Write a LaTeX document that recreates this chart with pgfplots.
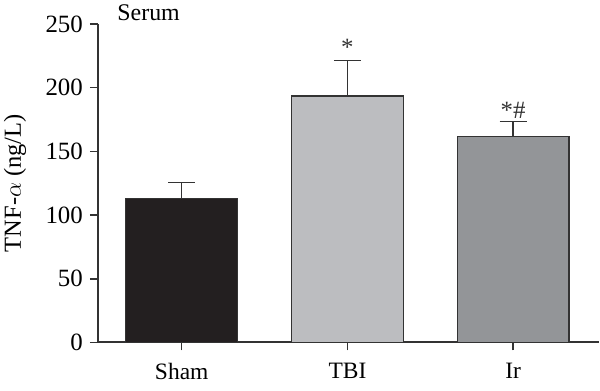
\documentclass[border=0pt]{standalone}
\usepackage{pgfplots}
\pgfplotsset{compat=1.18}
\usepackage{fontspec}
\setmainfont{Liberation Serif}
\definecolor{shamc}{HTML}{231F20}
\definecolor{tbic}{HTML}{BCBDC0}
\definecolor{irc}{HTML}{939598}
\definecolor{edgec}{HTML}{333333}
\begin{document}
\begin{tikzpicture}
\begin{axis}[
  scale only axis,
  width=251bp, height=159.5bp,
  xmin=-0.506, xmax=2.518,
  ymin=0, ymax=250,
  axis lines=left,
  axis line style={-, line width=1bp, color=edgec},
  xtick={0,1,2},
  xticklabels={Sham,TBI,Ir},
  ytick={0,50,100,150,200,250},
  tick align=outside,
  major tick length=4bp,
  tick style={line width=0.8bp, color=edgec},
  x tick label style={font=\fontsize{11.8}{13}\selectfont, yshift=-3bp},
  y tick label style={font=\fontsize{12.5}{14}\selectfont},
  /pgf/number format/assume math mode=true,
  ylabel={TNF-$\alpha$ (ng/L)},
  ylabel style={font=\fontsize{12.3}{14}\selectfont, at={(axis description cs:-0.165,0.5)}, anchor=center},
  clip=false,
  ybar, bar width=0.675, bar shift=0pt,
  error bars/y dir=plus, error bars/y explicit,
  error bars/error bar style={line width=0.7bp, color=edgec},
  error bars/error mark options={rotate=90, mark size=6.8bp, line width=0.7bp, color=edgec},
]
\addplot[fill=shamc, draw=edgec, line width=0.7bp] coordinates {(0,113) +- (0,12.5)};
\addplot[fill=tbic, draw=edgec, line width=0.7bp] coordinates {(1,193.6) +- (0,27.6)};
\addplot[fill=irc, draw=edgec, line width=0.7bp] coordinates {(2,161.7) +- (0,11.5)};
\node[anchor=base west, font=\fontsize{12}{14}\selectfont, inner xsep=0pt] at (axis cs:-0.39,253) {Serum};
\node[font=\fontsize{12.5}{14}\selectfont, color=edgec] at (axis cs:1,232) {*};
\node[font=\fontsize{12.5}{14}\selectfont, color=edgec] at (axis cs:2,182) {*\#};
\coordinate (bl) at (rel axis cs:0,0);
\coordinate (tr) at (rel axis cs:1,1);
\end{axis}
\pgfresetboundingbox
\path[use as bounding box] ([xshift=-49bp,yshift=-24bp]bl) rectangle ([xshift=0.5bp,yshift=12bp]tr);
\end{tikzpicture}
\end{document}
